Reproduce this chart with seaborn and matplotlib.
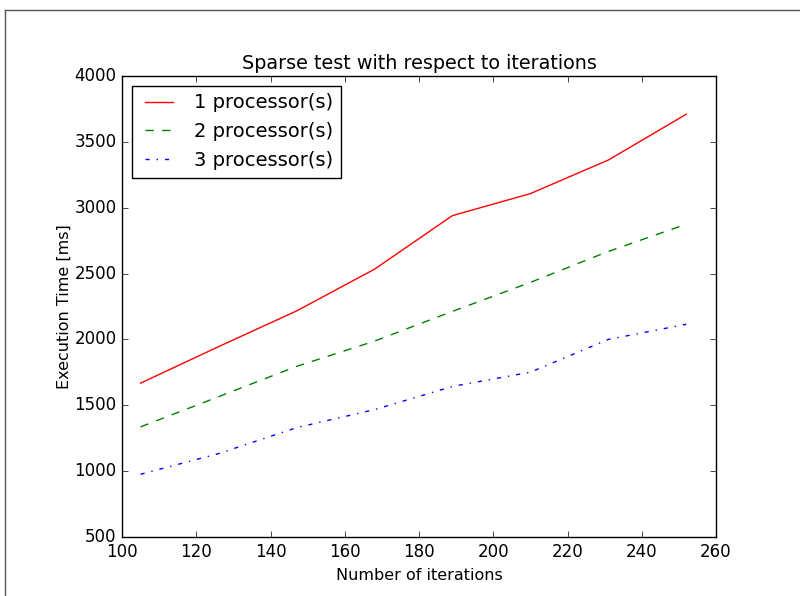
import matplotlib
matplotlib.use("Agg")
import matplotlib.pyplot as plt
from matplotlib.lines import Line2D
import pandas as pd
import seaborn as sns

iterations = [105, 126, 147, 168, 189, 210, 231, 252]
time_1proc = [1668, 1945, 2216, 2533, 2940, 3107, 3362, 3710]
time_2proc = [1336, 1565, 1795, 1987, 2213, 2433, 2668, 2875]
time_3proc = [976, 1133, 1330, 1467, 1643, 1751, 2000, 2115]
series_labels = ["1 processor(s)", "2 processor(s)", "3 processor(s)"]

plt.style.use("classic")

frames = []
for label, values in zip(series_labels, [time_1proc, time_2proc, time_3proc]):
    frames.append(pd.DataFrame({"iterations": iterations, "time": values, "series": label}))
df = pd.concat(frames, ignore_index=True)

fig = plt.figure(figsize=(8.0, 5.96), dpi=100, facecolor="white")
ax = fig.add_axes([122 / 800, 59 / 596, 594 / 800, 461 / 596])

sns.lineplot(
    data=df, x="iterations", y="time", hue="series", style="series",
    palette=["red", "green", "blue"],
    dashes=["", (6, 6), (3, 5, 1, 5)],
    linewidth=1.0, ax=ax, legend=True,
)

ax.set_xlim(100, 260)
ax.set_ylim(500, 4000)
ax.set_xticks(range(100, 261, 20))
ax.set_yticks(range(500, 4001, 500))
ax.tick_params(labelsize=12)
ax.set_title("Sparse test with respect to iterations", fontsize=13.8)
ax.set_xlabel("Number of iterations", fontsize=11.5)
ax.set_ylabel("Execution Time [ms]", fontsize=11.5, labelpad=2)

handles, labels = ax.get_legend_handles_labels()
leg = ax.legend(handles, labels, loc="upper left", fontsize=14, frameon=True,
                fancybox=False, borderpad=0.4, handlelength=2.0, handletextpad=0.8)
leg.get_frame().set_edgecolor("black")

# outer frame edges of the figure canvas
fig.add_artist(Line2D([5 / 800, 1], [1 - 10 / 596, 1 - 10 / 596], color="#555555", lw=1.0,
                      transform=fig.transFigure))
fig.add_artist(Line2D([5 / 800, 5 / 800], [0, 1 - 10 / 596], color="#555555", lw=1.0,
                      transform=fig.transFigure))

fig.savefig("out.png", dpi=100, facecolor="white")
